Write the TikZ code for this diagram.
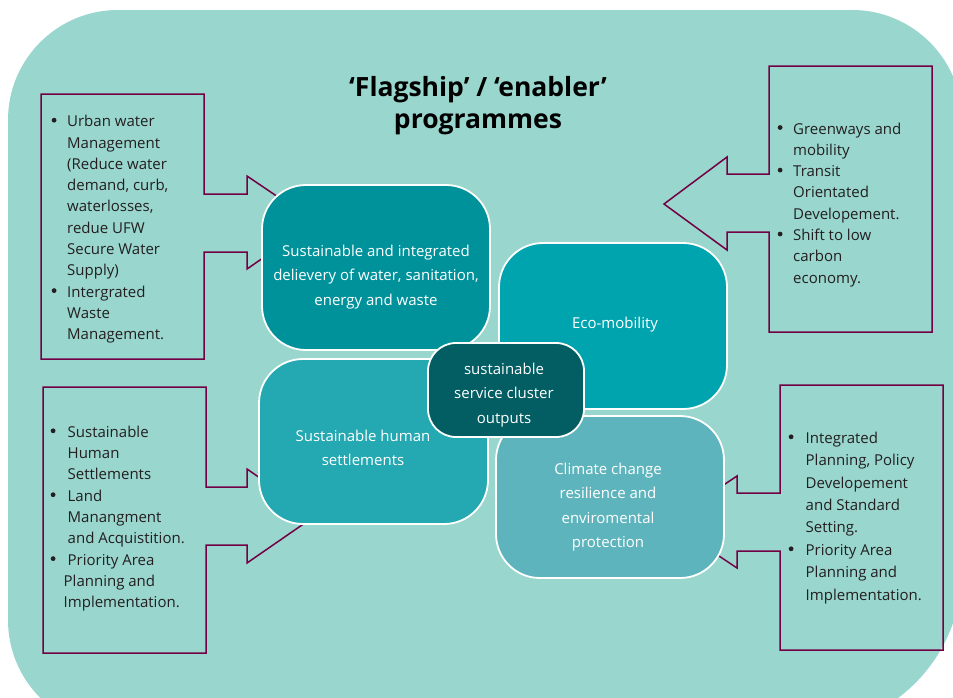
\documentclass[tikz,border=0pt]{standalone}
\usepackage{fontspec}
\setmainfont{Open Sans}
\definecolor{bgteal}{RGB}{153,214,206}
\definecolor{cardA}{RGB}{0,146,155}
\definecolor{cardB}{RGB}{0,164,174}
\definecolor{cardC}{RGB}{36,168,177}
\definecolor{cardD}{RGB}{94,180,188}
\definecolor{cardE}{RGB}{2,94,99}
\definecolor{callout}{RGB}{114,0,68}
\definecolor{txtgray}{RGB}{35,31,32}
\newcommand\dotmark{\tikz[baseline=0pt]\fill[txtgray] (2.5pt,6.5pt) circle (2.4pt);}
\newcommand\bul{\makebox[15.5pt][l]{\dotmark}}
\newcommand\bulb{\makebox[17pt][l]{\dotmark}}
\begin{document}
\begin{tikzpicture}[x=1pt,y=-1pt,
  card/.style={draw=white,line width=1.8pt,rounded corners=44pt,inner sep=0pt},
  co/.style={draw=callout,line width=1.5pt,line join=miter},
  btxt/.style={text=white,font=\fontsize{15}{24.5}\selectfont,inner sep=0pt,anchor=base},
  ctxt/.style={text=txtgray,font=\fontsize{15}{21.3}\selectfont,inner sep=0pt,anchor=base west},
  ttl/.style={text=black,font=\fontsize{26.5}{32}\selectfont\bfseries,inner sep=0pt,anchor=base}]
\useasboundingbox (0,0) rectangle (953,697);
\fill[white] (0,0) rectangle (953,697);
% background
\fill[bgteal] (8,620) -- (8,120) .. controls (8,59.25) and (57.25,10) .. (118,10)
  -- (852,10) .. controls (912.75,10) and (962,59.25) .. (962,120)
  -- (962,570) .. controls (962,658.4) and (890.4,730) .. (802,730)
  -- (118,730) .. controls (57.25,730) and (8,680.75) .. (8,620) -- cycle;
% title
\node[ttl] (title) at (478,96) {\begin{tabular}[t]{@{}c@{}}‘Flagship’ / ‘enabler’\\programmes\end{tabular}};
% callouts
\draw[co] (41,94) -- (204,94) -- (204,194) -- (247,194) -- (247,176) -- (315,222) -- (247,269) -- (247,252) -- (204,252) -- (204,359) -- (41,359) -- cycle;
\draw[co] (769,66) -- (932,66) -- (932,332) -- (769,332) -- (769,232) -- (727,232) -- (727,250) -- (664,204) -- (727,157) -- (727,174) -- (769,174) -- cycle;
\draw[co] (43,387) -- (206,387) -- (206,487) -- (247,487) -- (247,469) -- (315,516) -- (247,563) -- (247,545) -- (206,545) -- (206,653) -- (43,653) -- cycle;
\draw[co] (780,385) -- (943,385) -- (943,650) -- (780,650) -- (780,551) -- (737,551) -- (737,568) -- (668,522) -- (737,476) -- (737,493) -- (780,493) -- cycle;
% callout texts
\node[ctxt] (lt) at (51.5,126.7) {\begin{tabular}[t]{@{}l@{}l@{}}
\bul & Urban water\\
& Management\\
& (Reduce water\\
& demand, curb,\\
& waterlosses,\\
& redue UFW\\
& Secure Water\\
& Supply)\\
\bul & Intergrated\\
& Waste\\
& Management.
\end{tabular}};
\node[ctxt] (rt) at (777.5,134) {\begin{tabular}[t]{@{}l@{}l@{}}
\bul & Greenways and\\
& mobility\\
\bul & Transit\\
& Orientated\\
& Developement.\\
\bul & Shift to low\\
& carbon\\
& economy.
\end{tabular}};
\node[ctxt] (lb) at (50.5,437.3) {\begin{tabular}[t]{@{}l@{}l@{}}
\bulb & Sustainable\\
& Human\\
& Settlements\\
\bulb & Land\\
& Manangment\\
& and Acquistition.\\
\bulb & Priority Area\\
& \hspace*{-4pt}Planning and\\
& \hspace*{-4pt}Implementation.
\end{tabular}};
\node[ctxt,font=\fontsize{15}{22.4}\selectfont] (rb) at (788.5,443.3) {\begin{tabular}[t]{@{}l@{}l@{}}
\bulb & Integrated\\
& Planning, Policy\\
& Developement\\
& and Standard\\
& Setting.\\
\bulb & Priority Area\\
& Planning and\\
& Implementation.
\end{tabular}};
% cards
\node[card,fill=cardA,minimum width=228pt,minimum height=165pt] (A) at (376,267.5) {};
\node[card,fill=cardB,minimum width=228pt,minimum height=166pt] (B) at (613,326) {};
\node[card,fill=cardC,minimum width=229pt,minimum height=165pt] (C) at (373.5,441.5) {};
\node[card,fill=cardD,minimum width=228pt,minimum height=162pt] (D) at (610,497) {};
\node[card,fill=cardE,rounded corners=28pt,minimum width=156pt,minimum height=94pt] (E) at (506,390) {};
% card texts
\node[btxt] (tA) at (376,256) {\begin{tabular}[t]{@{}c@{}}Sustainable and integrated\\delievery of water, sanitation,\\energy and waste\end{tabular}};
\node[btxt] (tB) at (615,328.3) {Eco-mobility};
\node[btxt] (tC) at (363,441) {\begin{tabular}[t]{@{}c@{}}Sustainable human\\settlements\end{tabular}};
\node[btxt] (tD) at (608,474) {\begin{tabular}[t]{@{}c@{}}Climate change\\resilience and\\enviromental\\protection\end{tabular}};
\node[btxt] (tE) at (504,374) {\begin{tabular}[t]{@{}c@{}}sustainable\\service cluster\\outputs\end{tabular}};
\end{tikzpicture}
\end{document}
